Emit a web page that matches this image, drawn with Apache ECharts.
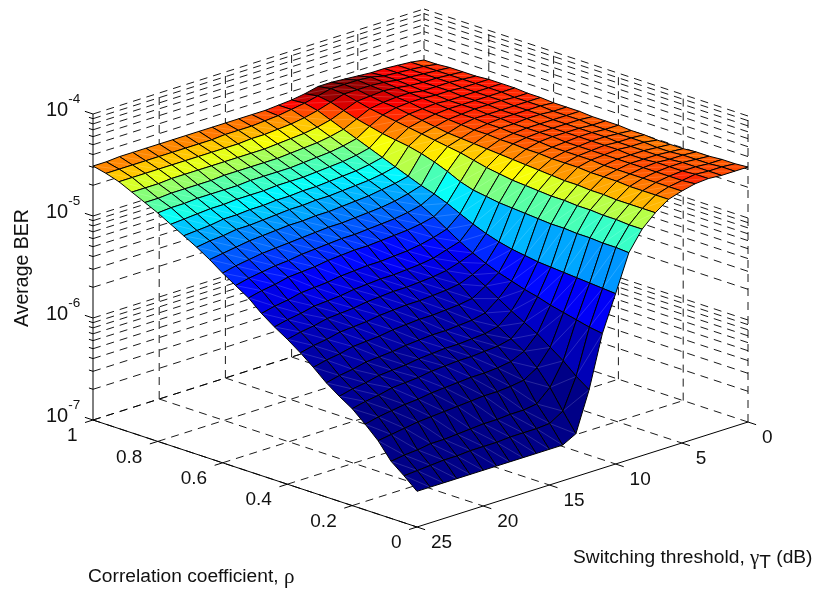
<!DOCTYPE html>
<html><head><meta charset="utf-8"><style>html,body{margin:0;padding:0;background:#fff}#c{width:820px;height:591px}</style>
<script src="https://cdn.jsdelivr.net/npm/echarts@6/dist/echarts.min.js"></script></head><body><div id="c"></div>
<script>
var gammaValues=[0,1,2,3,4,5,6,7,8,9,10,11,12,13,14,15,16,17,18,19,20,21,22,23,24,25];
var rhoValues=[1,.96,.92,.88,.84,.8,.76,.72,.68,.64,.6,.56,.52,.48,.44,.4,.36,.32,.28,.24,.2,.16,.12,.08,.04,0];
var gammaTicks=[0,5,10,15,20,25];
var rhoTicks=[0,.2,.4,.6,.8,1];
var decadeTicks=[-7,-6,-5,-4];
var minorMultipliers=[2,3,4,5,6,7,8,9];
// log10(average BER): one row per gamma, one column per rho (rho=1 ... rho=0)
var logBER=[
[-4.50,-4.50,-4.49,-4.49,-4.49,-4.48,-4.48,-4.48,-4.49,-4.49,-4.50,-4.50,-4.50,-4.51,-4.51,-4.51,-4.52,-4.52,-4.53,-4.53,-4.53,-4.52,-4.52,-4.51,-4.51,-4.50],
[-4.48,-4.48,-4.48,-4.48,-4.48,-4.48,-4.48,-4.48,-4.49,-4.49,-4.49,-4.50,-4.50,-4.50,-4.51,-4.51,-4.51,-4.51,-4.51,-4.52,-4.52,-4.51,-4.51,-4.51,-4.50,-4.50],
[-4.47,-4.47,-4.47,-4.47,-4.47,-4.48,-4.48,-4.48,-4.48,-4.49,-4.49,-4.49,-4.50,-4.50,-4.50,-4.50,-4.50,-4.51,-4.51,-4.51,-4.51,-4.51,-4.50,-4.50,-4.50,-4.50],
[-4.46,-4.46,-4.46,-4.47,-4.47,-4.47,-4.48,-4.48,-4.48,-4.49,-4.49,-4.49,-4.50,-4.50,-4.50,-4.50,-4.50,-4.50,-4.50,-4.51,-4.51,-4.50,-4.50,-4.50,-4.49,-4.49],
[-4.46,-4.45,-4.45,-4.46,-4.47,-4.47,-4.48,-4.48,-4.48,-4.49,-4.49,-4.50,-4.50,-4.50,-4.50,-4.51,-4.51,-4.51,-4.51,-4.51,-4.51,-4.51,-4.51,-4.51,-4.51,-4.50],
[-4.45,-4.42,-4.43,-4.44,-4.45,-4.46,-4.47,-4.48,-4.49,-4.49,-4.50,-4.50,-4.51,-4.51,-4.51,-4.52,-4.52,-4.52,-4.52,-4.53,-4.53,-4.53,-4.53,-4.53,-4.53,-4.53],
[-4.44,-4.41,-4.42,-4.43,-4.45,-4.46,-4.48,-4.49,-4.50,-4.51,-4.52,-4.52,-4.53,-4.53,-4.54,-4.54,-4.55,-4.55,-4.55,-4.56,-4.56,-4.56,-4.57,-4.57,-4.57,-4.57],
[-4.43,-4.41,-4.42,-4.44,-4.46,-4.47,-4.49,-4.51,-4.53,-4.55,-4.56,-4.57,-4.58,-4.59,-4.60,-4.61,-4.62,-4.63,-4.64,-4.64,-4.65,-4.65,-4.66,-4.66,-4.66,-4.66],
[-4.43,-4.41,-4.42,-4.45,-4.48,-4.50,-4.52,-4.54,-4.56,-4.58,-4.60,-4.62,-4.65,-4.68,-4.70,-4.72,-4.73,-4.74,-4.75,-4.75,-4.76,-4.76,-4.77,-4.77,-4.78,-4.78],
[-4.46,-4.44,-4.46,-4.50,-4.54,-4.57,-4.60,-4.62,-4.64,-4.67,-4.71,-4.76,-4.82,-4.86,-4.88,-4.90,-4.91,-4.92,-4.93,-4.94,-4.94,-4.95,-4.95,-4.96,-4.96,-4.97],
[-4.48,-4.47,-4.50,-4.55,-4.60,-4.65,-4.70,-4.75,-4.80,-4.85,-4.90,-4.94,-4.99,-5.05,-5.11,-5.16,-5.20,-5.23,-5.25,-5.27,-5.28,-5.29,-5.30,-5.31,-5.32,-5.33],
[-4.49,-4.49,-4.53,-4.58,-4.63,-4.68,-4.73,-4.78,-4.83,-4.88,-4.94,-5.01,-5.08,-5.16,-5.24,-5.31,-5.37,-5.42,-5.46,-5.50,-5.53,-5.57,-5.60,-5.63,-5.66,-5.68],
[-4.50,-4.51,-4.55,-4.60,-4.65,-4.70,-4.75,-4.80,-4.85,-4.90,-4.97,-5.04,-5.11,-5.20,-5.28,-5.36,-5.44,-5.51,-5.59,-5.67,-5.74,-5.81,-5.90,-5.99,-6.10,-6.19],
[-4.50,-4.52,-4.56,-4.61,-4.66,-4.71,-4.76,-4.81,-4.86,-4.92,-4.99,-5.06,-5.13,-5.23,-5.32,-5.40,-5.49,-5.59,-5.69,-5.78,-5.86,-5.94,-6.06,-6.21,-6.40,-6.58],
[-4.50,-4.53,-4.57,-4.62,-4.67,-4.72,-4.77,-4.82,-4.87,-4.93,-5.00,-5.07,-5.14,-5.25,-5.34,-5.42,-5.51,-5.61,-5.72,-5.81,-5.89,-6.00,-6.14,-6.33,-6.48,-6.65],
[-4.50,-4.53,-4.57,-4.63,-4.68,-4.73,-4.78,-4.83,-4.88,-4.94,-5.01,-5.08,-5.15,-5.26,-5.35,-5.43,-5.52,-5.62,-5.73,-5.82,-5.90,-6.02,-6.16,-6.35,-6.49,-6.65],
[-4.50,-4.53,-4.58,-4.63,-4.68,-4.73,-4.78,-4.83,-4.88,-4.95,-5.02,-5.09,-5.16,-5.27,-5.36,-5.44,-5.53,-5.63,-5.74,-5.83,-5.91,-6.03,-6.17,-6.35,-6.49,-6.65],
[-4.50,-4.54,-4.58,-4.63,-4.68,-4.73,-4.78,-4.84,-4.89,-4.95,-5.02,-5.09,-5.16,-5.27,-5.36,-5.44,-5.53,-5.63,-5.74,-5.83,-5.91,-6.03,-6.17,-6.36,-6.49,-6.65],
[-4.50,-4.54,-4.58,-4.63,-4.68,-4.73,-4.79,-4.84,-4.89,-4.96,-5.03,-5.10,-5.17,-5.28,-5.37,-5.45,-5.54,-5.64,-5.75,-5.84,-5.92,-6.04,-6.18,-6.36,-6.50,-6.65],
[-4.50,-4.54,-4.58,-4.63,-4.68,-4.74,-4.79,-4.85,-4.90,-4.96,-5.04,-5.11,-5.18,-5.29,-5.38,-5.46,-5.55,-5.65,-5.76,-5.85,-5.93,-6.05,-6.19,-6.37,-6.50,-6.65],
[-4.50,-4.54,-4.58,-4.63,-4.69,-4.74,-4.79,-4.85,-4.91,-4.97,-5.05,-5.12,-5.20,-5.31,-5.40,-5.48,-5.57,-5.67,-5.78,-5.87,-5.95,-6.06,-6.20,-6.38,-6.50,-6.65],
[-4.50,-4.54,-4.58,-4.63,-4.69,-4.74,-4.80,-4.86,-4.92,-4.98,-5.06,-5.14,-5.21,-5.32,-5.41,-5.49,-5.58,-5.68,-5.79,-5.88,-5.96,-6.08,-6.21,-6.39,-6.51,-6.65],
[-4.50,-4.54,-4.58,-4.63,-4.69,-4.74,-4.80,-4.86,-4.92,-4.99,-5.07,-5.15,-5.22,-5.33,-5.42,-5.50,-5.59,-5.69,-5.80,-5.89,-5.97,-6.09,-6.22,-6.39,-6.51,-6.65],
[-4.50,-4.54,-4.58,-4.64,-4.69,-4.75,-4.81,-4.88,-4.94,-5.01,-5.09,-5.17,-5.25,-5.36,-5.45,-5.53,-5.62,-5.72,-5.83,-5.92,-6.00,-6.11,-6.24,-6.41,-6.52,-6.65],
[-4.51,-4.54,-4.58,-4.64,-4.70,-4.75,-4.82,-4.89,-4.95,-5.03,-5.11,-5.19,-5.27,-5.38,-5.47,-5.55,-5.64,-5.74,-5.85,-5.94,-6.02,-6.13,-6.26,-6.42,-6.53,-6.65],
[-4.51,-4.54,-4.58,-4.64,-4.70,-4.76,-4.83,-4.90,-4.97,-5.05,-5.14,-5.22,-5.30,-5.41,-5.50,-5.58,-5.67,-5.77,-5.88,-5.97,-6.05,-6.16,-6.28,-6.44,-6.54,-6.65]
];
var FONT='"Liberation Sans",Arial,sans-serif';
function project(g,r,z){return [424+324*(1-r)-331*g/25, 315+107*(1-r)+105*g/25-102*(z+7)];}
var berMin=Infinity,berMax=-Infinity;
logBER.forEach(function(row){row.forEach(function(v){var b=Math.pow(10,v);if(b<berMin)berMin=b;if(b>berMax)berMax=b;});});
function jet(t){var level=Math.min(63,Math.floor(t*64));var q=(level+.5)/64;
 function c(x){return Math.round(255*Math.max(0,Math.min(1,x)));}
 return 'rgb('+c(1.5-Math.abs(4*q-3))+','+c(1.5-Math.abs(4*q-2))+','+c(1.5-Math.abs(4*q-1))+')';}
function colorOf(v){return jet((Math.pow(10,v)-berMin)/(berMax-berMin));}
var cells=[];
for(var a=0;a<gammaValues.length-1;a++)for(var b=0;b<rhoValues.length-1;b++)cells.push([a,b]);
var gMax=25,zLow=-7,zHigh=-4;
var dashed=[],solid=[];
function allZ(){var out=[];decadeTicks.forEach(function(d,k){out.push(d);if(k<3)minorMultipliers.forEach(function(m){out.push(d+Math.log10(m));});});return out;}
allZ().forEach(function(z){dashed.push([gMax,1,z,0,1,z]);dashed.push([0,0,z,0,1,z]);});
gammaTicks.forEach(function(g){if(g<gMax)dashed.push([g,1,zLow,g,1,zHigh]);if(g>0)dashed.push([g,1,zLow,g,0,zLow]);});
rhoTicks.forEach(function(r){if(r<1)dashed.push([0,r,zLow,0,r,zHigh]);if(r>0)dashed.push([gMax,r,zLow,0,r,zLow]);});
solid.push([gMax,1,zLow,gMax,1,zHigh],[gMax,1,zLow,gMax,0,zLow],[gMax,0,zLow,0,0,zLow]);
rhoTicks.forEach(function(r){solid.push([gMax,r,zLow,gMax+.6,r,zLow]);});
gammaTicks.forEach(function(g){solid.push([g,0,zLow,g,-.025,zLow]);});
decadeTicks.forEach(function(d){solid.push([gMax,1,d,gMax,1.025,d]);});
allZ().forEach(function(z){if(decadeTicks.indexOf(z)<0)solid.push([gMax,1,z,gMax,1.0125,z]);});
function lineItem(dash){return function(p,api){
 var s=api.coord(project(api.value(0),api.value(1),api.value(2))),e=api.coord(project(api.value(3),api.value(4),api.value(5)));
 return {type:'line',shape:{x1:s[0],y1:s[1],x2:e[0],y2:e[1]},style:{stroke:'#000',lineWidth:dash?.9:1,lineDash:dash?[8,6]:null,fill:null}};};}
function surfaceItem(p,api){
 var i=api.value(0),j=api.value(1);
 function P(a,b){return api.coord(project(gammaValues[a],rhoValues[b],logBER[a][b]));}
 var A=P(i,j),B=P(i+1,j),C=P(i+1,j+1),D=P(i,j+1),col=colorOf(logBER[i][j+1]);
 return {type:'group',children:[
  {type:'polygon',shape:{points:[A,B,C,D]},style:{fill:col,stroke:null}},
  {type:'line',shape:{x1:B[0],y1:B[1],x2:D[0],y2:D[1]},style:{stroke:'rgba(255,255,255,0.2)',lineWidth:.8,fill:null}},
  {type:'polygon',shape:{points:[A,B,C,D]},style:{fill:null,stroke:'#000',lineWidth:1,lineJoin:'round'}}]};}
function textItem(kind){return function(p,api){
 var v=api.value(0),c,o;
 if(kind==='rho'){c=api.coord(project(gMax,v,zLow));o={x:c[0]-15.5,y:c[1]+16,align:'right',text:String(v)};}
 else{c=api.coord(project(v,0,zLow));o={x:c[0]+14,y:c[1]+15.5,align:'left',text:String(v)};}
 return {type:'text',style:{x:o.x,y:o.y,text:o.text,align:o.align,verticalAlign:'middle',fill:'#111',font:'19px '+FONT}};};}
function decadeItem(p,api){var v=api.value(0);var c=api.coord(project(gMax,1,v));
 return {type:'text',style:{x:c[0]-47,y:c[1]-7.75,align:'left',verticalAlign:'middle',text:'{b|10}{s|'+v+'}',fill:'#111',
  rich:{b:{fontFamily:'Liberation Sans',fontSize:20,lineHeight:28.5,height:20,verticalAlign:'bottom',fill:'#111'},s:{fontFamily:'Liberation Sans',fontSize:13.5,lineHeight:28.5,height:14,verticalAlign:'top',fill:'#111'}}}};}
function custom(data,fn){return {type:'custom',coordinateSystem:'cartesian2d',data:data,renderItem:fn,silent:true,clip:false,animation:false};}
var chart=echarts.init(document.getElementById('c'),null,{renderer:'canvas'});
chart.setOption({animation:false,backgroundColor:'#fff',
 grid:{left:0,right:0,top:0,bottom:0},
 xAxis:{type:'value',min:0,max:820,show:false},
 yAxis:{type:'value',min:0,max:591,inverse:true,show:false},
 series:[custom(dashed,lineItem(true)),custom(solid,lineItem(false)),custom(cells,surfaceItem),
  custom(rhoTicks.map(function(v){return [v];}),textItem('rho')),
  custom(gammaTicks.map(function(v){return [v];}),textItem('gamma')),
  custom(decadeTicks.map(function(v){return [v];}),decadeItem)],
 graphic:[
  {type:'text',silent:true,rotation:Math.PI/2,x:23,y:268,style:{text:'Average BER',align:'center',verticalAlign:'middle',fill:'#111',font:'19.5px '+FONT}},
  {type:'text',silent:true,x:88,y:577,style:{text:'Correlation coefficient, {g|ρ}',verticalAlign:'middle',fill:'#111',font:'19.2px '+FONT,rich:{g:{fontFamily:'Liberation Serif',fontSize:21,fill:'#111'}}}},
  {type:'text',silent:true,x:573,y:558,style:{text:'Switching threshold, {g|γ}{t|T} {n|(dB)}',verticalAlign:'middle',fill:'#111',font:'19.2px '+FONT,rich:{g:{fontFamily:'Liberation Serif',fontSize:21,fill:'#111'},t:{fontFamily:'Liberation Sans',fontSize:19,verticalAlign:'bottom',lineHeight:28,height:19,fill:'#111'},n:{fontFamily:'Liberation Sans',fontSize:19.2,fill:'#111'}}}}
 ]});
</script></body></html>
